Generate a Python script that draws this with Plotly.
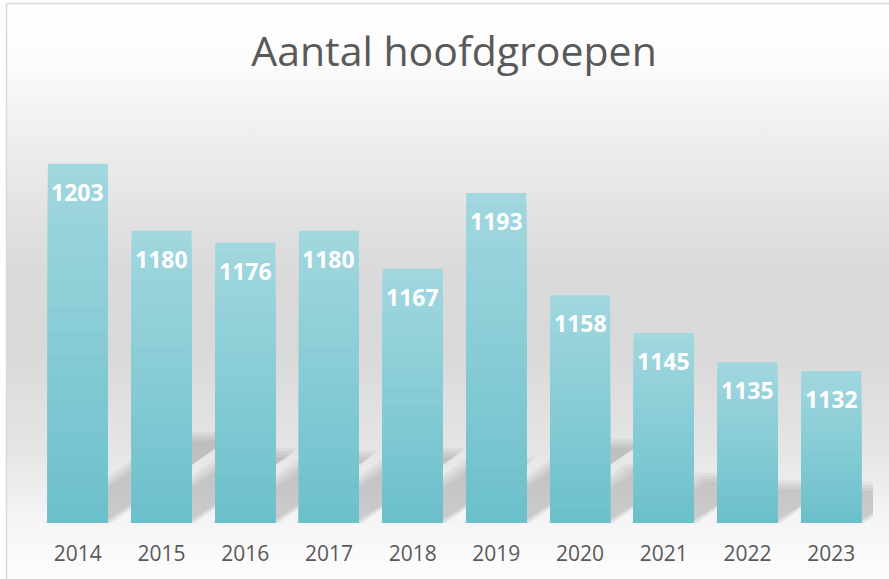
import base64
import plotly.graph_objects as go

# ---- data ----
years = ["2014", "2015", "2016", "2017", "2018", "2019", "2020", "2021", "2022", "2023"]
values = [1203, 1180, 1176, 1180, 1167, 1193, 1158, 1145, 1135, 1132]
title_text = "Aantal hoofdgroepen"

# ---- layout geometry ----
W, H = 889, 579
ML, MR, MT, MB = 36, 16, 114, 56
PW = W - ML - MR
PH = H - MT - MB
Y_MIN, Y_MAX = 1080, 1220
BAR_W = 0.717


def px_x(p):
    return (p - ML) / PW


def px_y(p):
    return (H - MB - p) / PH


def lerp(c1, c2, t):
    return "rgb(%d,%d,%d)" % tuple(round(a + (b - a) * t) for a, b in zip(c1, c2))


xs = list(range(len(years)))
fig = go.Figure()

# gradient bars: overlaid bars of decreasing height, light at top, darker at bottom
C_TOP = (161, 215, 223)
C_BOT = (108, 192, 203)
N = 30
for k in range(N):
    frac = (N - k) / N
    fig.add_trace(go.Bar(
        x=xs,
        y=[(v - Y_MIN) * frac for v in values],
        base=[Y_MIN] * len(values),
        width=BAR_W,
        marker=dict(color=lerp(C_TOP, C_BOT, k / (N - 1)), line=dict(width=0)),
        hoverinfo="skip" if k else "x+y",
        showlegend=False,
    ))

# data labels
for i, v in enumerate(values):
    fig.add_annotation(
        x=xs[i], y=v, xref="x", yref="y", text=str(v), showarrow=False,
        yanchor="middle", yshift=-28,
        font=dict(family="Open Sans", size=23, color="white", weight="bold"),
    )

# perspective shadows (blurred approximation)
px_per_x = PW / (xs[-1] - xs[0] + 1)
px_per_y = PH / (Y_MAX - Y_MIN)
SH_SCALE = 0.243
SH_SKEW = 1.44  # horizontal px per vertical px
shapes = []
for i, v in enumerate(values):
    hs_px = (v - Y_MIN) * px_per_y * SH_SCALE
    dx_px = hs_px * SH_SKEW
    for e in (-5, -2, 1, 4):
        ex = e / px_per_x
        ey = e / px_per_y
        x0 = xs[i] - BAR_W / 2 - ex
        x1 = xs[i] + BAR_W / 2 + ex
        dx = dx_px / px_per_x
        top = Y_MIN + hs_px / px_per_y + ey
        path = "M %f,%f L %f,%f L %f,%f L %f,%f Z" % (
            x0, Y_MIN, x1, Y_MIN, x1 + dx, top, x0 + dx, top)
        shapes.append(dict(type="path", path=path, xref="x", yref="y",
                           fillcolor="rgba(0,0,0,0.045)", line=dict(width=0),
                           layer="below"))

# chart-area frame (left and top edges visible)
frame_line = dict(color="#d9d9d9", width=1.5)
shapes.append(dict(type="line", xref="paper", yref="paper",
                   x0=px_x(6.5), y0=px_y(3.5), x1=px_x(6.5), y1=px_y(H + 10),
                   line=frame_line, layer="above"))
shapes.append(dict(type="line", xref="paper", yref="paper",
                   x0=px_x(6.5), y0=px_y(3.5), x1=px_x(W + 10), y1=px_y(3.5),
                   line=frame_line, layer="above"))

# background gradient as inline SVG image
top_px, bot_px = 3, 600
stops = [(3, "#ffffff"), (60, "#fcfcfc"), (150, "#ececec"), (270, "#dadada"),
         (350, "#d9d9d9"), (450, "#e5e5e5"), (520, "#f5f5f5"), (560, "#fbfbfb"), (600, "#fdfdfd")]
stop_xml = "".join('<stop offset="%.4f" stop-color="%s"/>' % ((p - top_px) / (bot_px - top_px), c)
                   for p, c in stops)
svg = ('<svg xmlns="http://www.w3.org/2000/svg" width="100" height="100" viewBox="0 0 100 100" '
       'preserveAspectRatio="none"><defs><linearGradient id="g" x1="0" y1="0" x2="0" y2="1">'
       + stop_xml + '</linearGradient></defs><rect width="100" height="100" fill="url(#g)"/></svg>')
src = "data:image/svg+xml;base64," + base64.b64encode(svg.encode()).decode()

fig.update_layout(
    width=W, height=H,
    margin=dict(l=ML, r=MR, t=MT, b=MB),
    paper_bgcolor="white",
    plot_bgcolor="rgba(0,0,0,0)",
    barmode="overlay",
    showlegend=False,
    shapes=shapes,
    images=[dict(source=src, xref="paper", yref="paper",
                 x=px_x(6), y=px_y(3), sizex=px_x(W + 20) - px_x(6), sizey=px_y(3) - px_y(bot_px),
                 xanchor="left", yanchor="top", sizing="stretch", layer="below")],
    title=dict(text=title_text, x=454 / W, xref="container", xanchor="center",
               y=1 - 52 / H, yref="container", yanchor="middle",
               font=dict(family="Open Sans", size=41, color="#595959")),
    xaxis=dict(range=[-0.5, len(years) - 0.5], tickvals=xs, ticktext=years,
               showgrid=False, zeroline=False, showline=False,
               ticks="outside", ticklen=12, tickcolor="rgba(0,0,0,0)",
               tickfont=dict(family="Open Sans", size=21, color="#595959")),
    yaxis=dict(range=[Y_MIN, Y_MAX], visible=False),
)

fig.write_html("out.html", config={"displayModeBar": False},
               post_script="document.body.style.margin='0';document.body.style.overflow='hidden';")
